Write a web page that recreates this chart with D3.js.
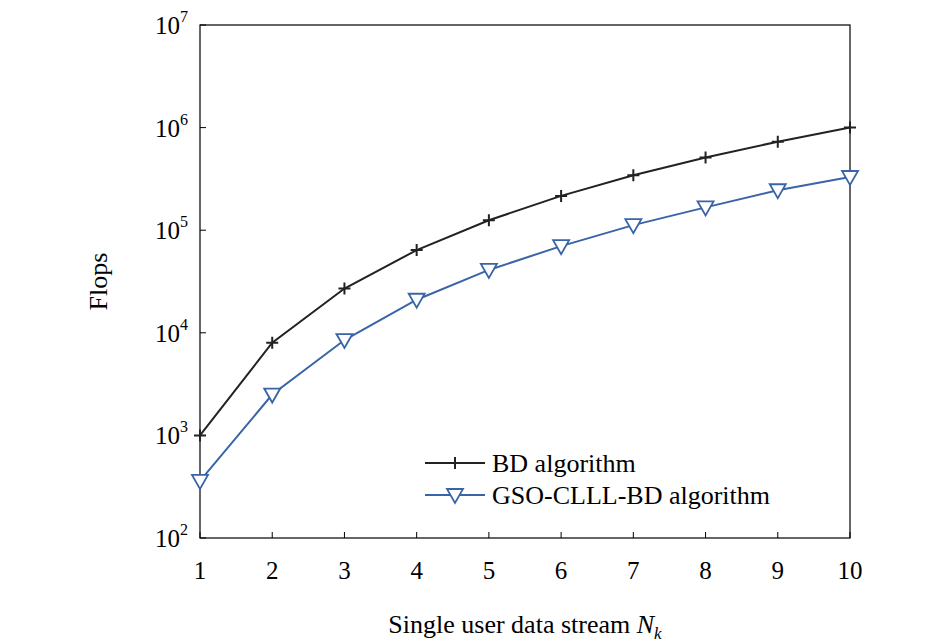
<!DOCTYPE html>
<html><head><meta charset="utf-8">
<script src="https://cdn.jsdelivr.net/npm/d3@7"></script>
<style>body{margin:0;background:#fff}svg text{font-family:'Liberation Serif','Times New Roman',Times,serif}</style>
</head><body><svg id="svg" width="945" height="643"></svg>
<script>
const streams = [1,2,3,4,5,6,7,8,9,10];
const bdFlops = [1000,8000,27000,64000,125000,216000,343000,512000,729000,1000000];
const gsoFlops = [360,2500,8500,21000,41000,70000,112000,167000,245000,330000];
const yTicks = [2,3,4,5,6,7];

const svg = d3.select('#svg');
const m = {l:200, r:850, t:25, b:538};
const x = d3.scaleLinear().domain([1,10]).range([m.l, m.r]);
const y = d3.scaleLog().domain([100,1e7]).range([m.b, m.t]);
const serif = "'Liberation Serif','Times New Roman',serif";

// frame
svg.append('rect').attr('x',m.l).attr('y',m.t).attr('width',m.r-m.l).attr('height',m.b-m.t)
  .attr('fill','none').attr('stroke','#000').attr('stroke-width',1.2);

// x ticks
streams.forEach(d => {
  svg.append('line').attr('x1',x(d)).attr('x2',x(d)).attr('y1',m.b).attr('y2',m.b-6).attr('stroke','#000');
  svg.append('text').attr('font-family',serif).attr('x',x(d)).attr('y',m.b+41).attr('text-anchor','middle').attr('font-size',25).text(d);
});
// y ticks
yTicks.forEach(e => {
  const yy = y(Math.pow(10,e));
  svg.append('line').attr('x1',m.l).attr('x2',m.l+6).attr('y1',yy).attr('y2',yy).attr('stroke','#000');
  const t = svg.append('text').attr('font-family',serif).attr('x',m.l-12).attr('y',yy+9).attr('text-anchor','end').attr('font-size',25);
  t.append('tspan').text('10');
  t.append('tspan').attr('dy',-12).attr('font-size',16).text(e);
});

// labels
svg.append('text').attr('font-family',serif).attr('transform',`translate(107,${(m.t+m.b)/2}) rotate(-90)`)
  .attr('text-anchor','middle').attr('font-size',26).text('Flops');
const xl = svg.append('text').attr('font-family',serif).attr('x',525).attr('y',633).attr('text-anchor','middle').attr('font-size',26);
xl.append('tspan').text('Single user data stream ');
xl.append('tspan').attr('font-style','italic').text('N');
xl.append('tspan').attr('font-style','italic').attr('font-size',17).attr('dy',6).text('k');

const line = d3.line().x((d,i) => x(streams[i])).y(d => y(d));

// BD
svg.append('path').datum(bdFlops).attr('d',line).attr('fill','none').attr('stroke','#222').attr('stroke-width',2);
const plus = (g,cx,cy) => g.append('path').attr('d',`M${cx-6},${cy}H${cx+6}M${cx},${cy-6}V${cy+6}`).attr('stroke','#222').attr('stroke-width',2);
bdFlops.forEach((d,i) => plus(svg, x(streams[i]), y(d)));

// GSO
const blue = '#3a64a8';
svg.append('path').datum(gsoFlops).attr('d',line).attr('fill','none').attr('stroke',blue).attr('stroke-width',2);
const tri = (g,cx,cy) => g.append('path').attr('d',`M${cx-8},${cy-6}L${cx+8},${cy-6}L${cx},${cy+8}Z`)
  .attr('fill','#fff').attr('stroke',blue).attr('stroke-width',1.8);
gsoFlops.forEach((d,i) => tri(svg, x(streams[i]), y(d)));

// legend
svg.append('line').attr('x1',425).attr('x2',485).attr('y1',463).attr('y2',463).attr('stroke','#222').attr('stroke-width',2);
plus(svg,455,463);
svg.append('text').attr('font-family',serif).attr('x',492).attr('y',472).attr('font-size',26).text('BD algorithm');
svg.append('line').attr('x1',425).attr('x2',485).attr('y1',495).attr('y2',495).attr('stroke',blue).attr('stroke-width',2);
tri(svg,455,495);
svg.append('text').attr('font-family',serif).attr('x',492).attr('y',504).attr('font-size',26).text('GSO-CLLL-BD algorithm');
</script></body></html>
